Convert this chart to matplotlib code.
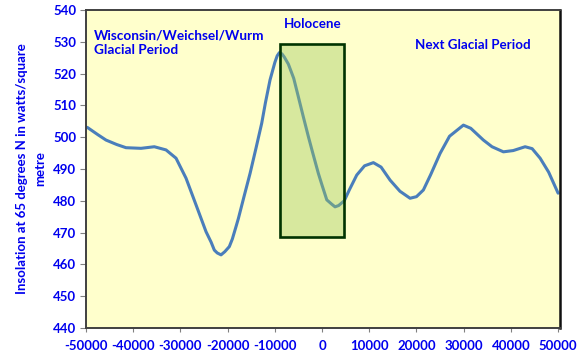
import matplotlib
matplotlib.use("Agg")
import matplotlib.pyplot as plt
from matplotlib.patches import Rectangle

# years relative to present (negative = past)
years = [-50000, -49640, -47500, -45760, -43500, -41530, -38350, -35530,
         -33050, -30930, -28810, -26690, -24580, -23500, -22820, -22200,
         -21400, -20600, -19640, -19000, -18220, -17730, -16500, -15250,
         -14000, -12780, -12000, -11020, -10000, -9500, -9040, -8500,
         -8000, -7140, -6000, -5020, -4000, -2900, -2000, -780,
         0, 1000, 2000, 2750, 3500, 4700, 5800, 7350,
         9000, 10870, 12500, 14410, 16500, 18640, 20000, 21460,
         23000, 25000, 27000, 29940, 31500, 34170, 36000, 38410,
         40500, 43010, 44500, 46190, 48000, 50000]
insolation = [503.2, 503.0, 500.8, 499.1, 497.7, 496.7, 496.5, 497.0,
              496.0, 493.4, 487.1, 478.7, 470.3, 467.0, 464.5, 463.6,
              463.0, 464.0, 465.6, 468.0, 471.9, 474.4, 481.5, 488.6,
              496.5, 504.4, 510.8, 518.0, 523.5, 525.6, 526.6, 526.2,
              525.2, 523.0, 518.5, 512.7, 506.6, 500.2, 495.2, 488.6,
              484.9, 480.3, 479.0, 478.1, 478.5, 480.0, 483.5, 488.1,
              491.0, 492.0, 490.6, 486.5, 483.0, 480.8, 481.3, 483.4,
              488.2, 494.9, 500.3, 503.8, 502.8, 499.1, 497.0, 495.4,
              495.8, 497.0, 496.4, 493.4, 489.0, 482.4]

holocene = (-9000, 4700, 468.6, 529.3)  # x0, x1, y0, y1
xticks = list(range(-50000, 50001, 10000))
yticks = list(range(440, 541, 10))

blue_txt = "#0000EE"
font = "Lato"

fig = plt.figure(figsize=(5.83, 3.6), dpi=100)
ax = fig.add_axes([86 / 583, 1 - 328 / 360, (560 - 86) / 583, (328 - 10) / 360])
ax.set_facecolor("#FFFFCC")

ax.plot(years, insolation, color="#4A7EBB", lw=2.2,
        solid_capstyle="round", solid_joinstyle="round")

x0, x1, y0, y1 = holocene
ax.add_patch(Rectangle((x0, y0), x1 - x0, y1 - y0,
                       facecolor=(0.61, 0.78, 0.35, 0.4),
                       edgecolor="#003300", lw=1.9, zorder=3))

ax.set_xlim(-50000, 50400)
ax.set_ylim(440, 540)
ax.set_xticks(xticks)
ax.set_yticks(yticks)
ax.set_xticklabels([str(t) for t in xticks])
ax.set_yticklabels([str(t) for t in yticks])
for lab in ax.get_xticklabels() + ax.get_yticklabels():
    lab.set_fontfamily(font)
    lab.set_fontweight("bold")
    lab.set_fontsize(9.5)
    lab.set_color(blue_txt)
ax.tick_params(axis="x", direction="out", length=3, color="#808080", pad=6)
ax.tick_params(axis="y", direction="out", length=4, color="#808080", pad=3)

for side in ["left", "top", "bottom"]:
    ax.spines[side].set_color("#404040")
    ax.spines[side].set_linewidth(1.4)
ax.spines["right"].set_color("#101010")
ax.spines["right"].set_linewidth(1.8)

ax.set_ylabel("Insolation at 65 degrees N in watts/square\nmetre",
              fontfamily=font, fontweight="bold", fontsize=9.5,
              color=blue_txt, linespacing=1.6)
ax.yaxis.set_label_coords(-0.084, 0.5)

ax.text(-48300, 534.0, "Wisconsin/Weichsel/Wurm\nGlacial Period",
        ha="left", va="top", fontfamily=font, fontweight="bold",
        fontsize=9.8, color=blue_txt, linespacing=1.3)
ax.text(-1900, 537.6, "Holocene", ha="center", va="top",
        fontfamily=font, fontweight="bold", fontsize=9.6, color=blue_txt)
ax.text(32000, 530.8, "Next Glacial Period", ha="center", va="top",
        fontfamily=font, fontweight="bold", fontsize=9.6, color=blue_txt)

fig.savefig("out.png", dpi=100, facecolor="white")
